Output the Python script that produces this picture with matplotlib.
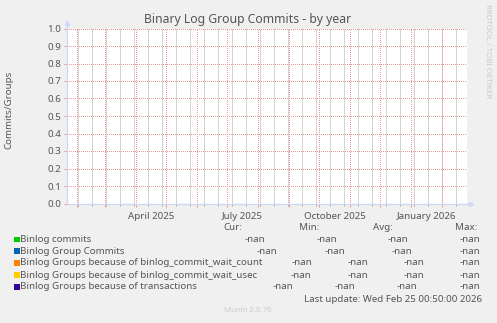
import numpy as np
import matplotlib.pyplot as plt
import matplotlib.dates as mdates
from matplotlib.patches import Rectangle

plt.rcParams['font.family'] = ['Noto Sans', 'DejaVu Sans']

# rango de tiempo del gráfico (vista anual)
inicio = np.datetime64('2025-01-22T00:00')
fin = np.datetime64('2026-02-25T00:50')
primer_domingo = np.datetime64('2025-01-19T00:00')
meses_etiqueta = ['2025-04', '2025-07', '2025-10', '2026-01']

# eje y
y_min, y_max, y_paso = 0.0, 1.0, 0.1

# series de la leyenda (todas sin datos)
series = ['Binlog commits', 'Binlog Group Commits',
          'Binlog Groups because of binlog_commit_wait_count',
          'Binlog Groups because of binlog_commit_wait_usec',
          'Binlog Groups because of transactions']
colores = ['#00cc00', '#0066b3', '#ff8000', '#ffcc00', '#330099']
cur = [np.nan, np.nan, np.nan, np.nan, np.nan]
minimo = [np.nan, np.nan, np.nan, np.nan, np.nan]
promedio = [np.nan, np.nan, np.nan, np.nan, np.nan]
maximo = [np.nan, np.nan, np.nan, np.nan, np.nan]

W, H = 497, 323
gris_texto = '#555555'
rojo_grid = '#eb9a9a'
gris_grid = '#a8a8a8'
eje = '#cfd6f8'


def fx(x):
    return x / W


def fy(y):
    return 1 - y / H


def fmt(v):
    return '-nan' if np.isnan(v) else '%.2f' % v


fig = plt.figure(figsize=(W / 100, H / 100), dpi=100, facecolor='#f0f0f0')
ax = fig.add_axes([fx(66.5), fy(203.5), fx(466.5) - fx(66.5), fy(28.5) - fy(203.5)])
ax.set_facecolor('white')

x0 = mdates.date2num(inicio)
x1 = mdates.date2num(fin)
ax.set_xlim(x0, x1)
ax.set_ylim(y_min, y_max)

# fechas de la grilla: inicio de cada mes (rojo) y cada dos semanas (gris)
meses = np.arange(np.datetime64(inicio, 'M') + 1, np.datetime64(fin, 'M') + 1)
meses_num = mdates.date2num(meses.astype('datetime64[D]'))
quincenas_num = mdates.date2num(primer_domingo) + np.arange(0, 420, 14)
quincenas_num = quincenas_num[(quincenas_num > x0) & (quincenas_num < x1)]
niveles = np.arange(y_min, y_max + y_paso / 2, y_paso)

ax.set_xticks(meses_num)
ax.set_xticks(quincenas_num, minor=True)
ax.xaxis.set_major_formatter(plt.NullFormatter())
ax.xaxis.set_minor_formatter(plt.NullFormatter())
ax.set_yticks(niveles)
ax.set_yticklabels(['%.1f' % v for v in niveles])

# grilla gris cada dos semanas, roja en meses y niveles
ax.vlines(quincenas_num, y_min, y_max, colors=gris_grid, linestyles=[(0, (1, 1))],
          linewidth=0.72, zorder=0.6)
estilo = dict(linestyle=(0.5, (1, 1)), linewidth=0.72, zorder=0.7)
for d in meses_num:
    ax.axvline(d, color=rojo_grid, **estilo)
for v in niveles[1:]:
    ax.axhline(v, color=rojo_grid, **estilo)

ax.tick_params(axis='x', which='major', length=2.5, color=rojo_grid, width=0.72)
ax.tick_params(axis='x', which='minor', length=1.2, color=gris_grid, width=0.72)
ax.tick_params(axis='y', which='major', length=2.5, color=rojo_grid, width=0.72,
               labelsize=7, labelcolor=gris_texto, pad=1.5)

for s in ax.spines.values():
    s.set_visible(False)

# ejes con flechas
ax.plot([0, 0], [0, 1.03], color=eje, lw=0.9, transform=ax.transAxes, clip_on=False)
ax.plot([0, 1.01], [0, 0], color=eje, lw=0.9, transform=ax.transAxes, clip_on=False)
ax.plot([0], [1.03], marker='^', ms=3, color=eje, transform=ax.transAxes, clip_on=False)
ax.plot([1.01], [0], marker='>', ms=3, color=eje, transform=ax.transAxes, clip_on=False)

# etiquetas de meses centradas en el mes
for m in meses_etiqueta:
    d0 = mdates.date2num(np.datetime64(m, 'D'))
    d1 = mdates.date2num(np.datetime64(np.datetime64(m, 'M') + 1, 'D'))
    etiqueta = mdates.num2date(d0).strftime('%B %Y')
    ax.text((d0 + d1) / 2, -0.05, etiqueta, transform=ax.get_xaxis_transform(),
            ha='center', va='top', fontsize=7, color=gris_texto)

fig.text(fx(248), fy(20), 'Binary Log Group Commits - by year', ha='center',
         va='center', fontsize=8.8, color=gris_texto)
fig.text(fx(9), fy(110), 'Commits/Groups', rotation=90, ha='center', va='center',
         fontsize=7, color=gris_texto)
fig.text(fx(487), fy(51), 'RRDTOOL / TOBI OETIKER', rotation=270, ha='center',
         va='center', fontsize=5.6, color='#c8c8c8')

# leyenda
filas_y = [239.5, 251, 262.8, 275, 286.8]
cols_x = [[265, 337, 408, 480], [277, 345, 412, 480], [312, 368, 424, 480],
          [311, 368, 424, 480], [293, 355, 417, 480]]
for nom, x in zip(['Cur:', 'Min:', 'Avg:', 'Max:'], [242, 319, 393, 477]):
    fig.text(fx(x), fy(227.8), nom, ha='right', va='center', fontsize=7, color=gris_texto)

for i, nombre in enumerate(series):
    y = filas_y[i]
    fig.add_artist(Rectangle((fx(14), fy(y + 2.7)), fx(6), 5.4 / H,
                             facecolor=colores[i], edgecolor='none'))
    fig.text(fx(20), fy(y), nombre, ha='left', va='center', fontsize=7, color=gris_texto)
    for v, x in zip([cur[i], minimo[i], promedio[i], maximo[i]], cols_x[i]):
        fig.text(fx(x), fy(y), fmt(v), ha='right', va='center', fontsize=7, color=gris_texto)

fig.text(fx(482), fy(299), 'Last update: Wed Feb 25 00:50:00 2026', ha='right',
         va='center', fontsize=7, color=gris_texto)
fig.text(fx(248), fy(311), 'Munin 2.0.76', ha='center', va='center', fontsize=5.6,
         color='#cccccc')

fig.savefig('out.png', dpi=100, facecolor=fig.get_facecolor())
